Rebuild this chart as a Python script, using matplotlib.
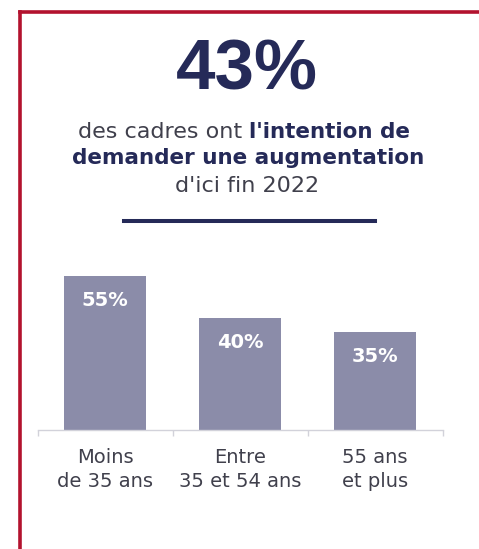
import matplotlib
matplotlib.use("Agg")
import matplotlib.pyplot as plt
from matplotlib.lines import Line2D

W, H = 479, 549

# data
categories = ["Moins\nde 35 ans", "Entre\n35 et 54 ans", "55 ans\net plus"]
values = [55, 40, 35]
headline = "43%"
sub_regular = "des cadres ont "
sub_bold = "l'intention de"
sub_line2 = "demander une augmentation"
sub_line3 = "d'ici fin 2022"

NAVY = "#252a58"
BAR = "#8b8ca9"
GREY_TXT = "#40404c"
RED = "#b3122e"

plt.rcParams["font.family"] = ["DejaVu Sans"]

fig = plt.figure(figsize=(W / 100, H / 100), dpi=100)
fig.patch.set_facecolor("white")


def fx(x):
    return x / W


def fy(y):
    return 1 - y / H


# red frame (only top and left visible)
fig.add_artist(Line2D([fx(20), fx(20)], [fy(11.5), fy(H + 5)], color=RED, lw=2.6,
                      solid_capstyle="projecting"))
fig.add_artist(Line2D([fx(20), fx(W + 5)], [fy(11.5), fy(11.5)], color=RED, lw=2.6,
                      solid_capstyle="projecting"))

# headline
fig.text(fx(247), fy(72), headline, ha="center", va="center", fontsize=51,
         fontweight="bold", color=NAVY, family="Liberation Sans")

# first subtitle line with mixed weights
renderer = fig.canvas.get_renderer()
t1 = fig.text(0, fy(138), sub_regular, ha="left", va="baseline", fontsize=16,
              color=GREY_TXT)
t2 = fig.text(0, fy(138), sub_bold, ha="left", va="baseline", fontsize=15.5,
              fontweight="bold", color=NAVY)
w1 = t1.get_window_extent(renderer).width
w2 = t2.get_window_extent(renderer).width
x0 = 244 - (w1 + w2) / 2
t1.set_x(fx(x0))
t2.set_x(fx(x0 + w1))

fig.text(fx(248), fy(164), sub_line2, ha="center", va="baseline", fontsize=15.5,
         fontweight="bold", color=NAVY)
fig.text(fx(247), fy(192), sub_line3, ha="center", va="baseline", fontsize=16,
         color=GREY_TXT)

# rule under the text
fig.add_artist(Line2D([fx(124), fx(375)], [fy(221), fy(221)], color=NAVY, lw=2.9))

# bar chart
ax_h = 160
ax = fig.add_axes([fx(37.5), fy(430), fx(442.5) - fx(37.5), ax_h / H])
ax.set_xlim(-0.5, 2.5)
ax.set_ylim(0, ax_h / 2.8)
ax.patch.set_visible(False)

xs = list(range(len(values)))
bars = ax.bar(xs, values, width=0.61, color=BAR, zorder=2)
for b, v in zip(bars, values):
    ax.annotate(f"{v}%", (b.get_x() + b.get_width() / 2, v), xytext=(0, -17.5),
                textcoords="offset points", ha="center", va="center",
                fontsize=14, fontweight="bold", color="white")

for side in ["top", "right", "left"]:
    ax.spines[side].set_visible(False)
ax.spines["bottom"].set_color("#d2d2da")
ax.spines["bottom"].set_linewidth(1.0)
ax.set_yticks([])
ax.set_xticks(xs)
ax.set_xticklabels(categories, fontsize=14, color=GREY_TXT, linespacing=1.35)
ax.tick_params(axis="x", which="major", length=0, pad=13)
ax.set_xticks([-0.5, 0.5, 1.5, 2.5], minor=True)
ax.tick_params(axis="x", which="minor", length=4, width=1, color="#d2d2da")

fig.savefig("out.png", dpi=100, facecolor="white")
